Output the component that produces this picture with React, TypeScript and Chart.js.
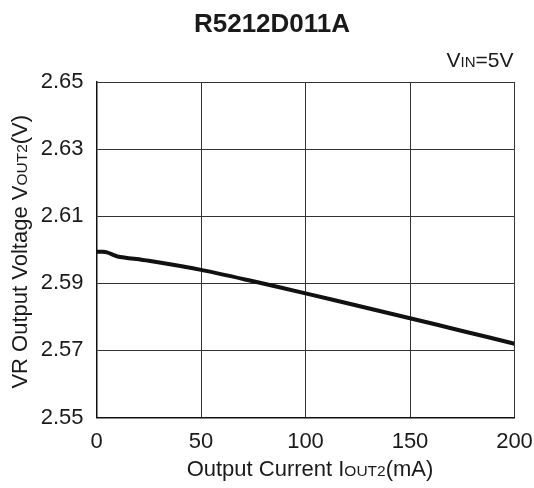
import React, { useEffect, useRef } from "react";
import { Chart, registerables } from "chart.js";

Chart.register(...registerables);

const currents = [0, 3, 5, 8, 10, 25, 50, 75, 100, 125, 150, 175, 200];
const voltages = [2.5994, 2.5994, 2.5992, 2.5985, 2.598, 2.5967, 2.594, 2.5906, 2.587, 2.5833, 2.5796, 2.5758, 2.572];
const xTicks = [0, 50, 100, 150, 200];
const yTicks = [2.55, 2.57, 2.59, 2.61, 2.63, 2.65];
const titleText = "R5212D011A";

const FONT = "'Liberation Sans', Arial, sans-serif";

function drawMixed(ctx: CanvasRenderingContext2D, parts: { t: string; s: number }[], x: number, y: number, align: "center" | "right") {
  let total = 0;
  for (const p of parts) {
    ctx.font = `${p.s}px ${FONT}`;
    total += ctx.measureText(p.t).width;
  }
  let cx = align === "center" ? x - total / 2 : x - total;
  ctx.textAlign = "left";
  ctx.textBaseline = "alphabetic";
  for (const p of parts) {
    ctx.font = `${p.s}px ${FONT}`;
    ctx.fillText(p.t, cx, y);
    cx += ctx.measureText(p.t).width;
  }
}

const textPlugin = {
  id: "customText",
  afterDraw(chart: any) {
    const ctx: CanvasRenderingContext2D = chart.ctx;
    const area = chart.chartArea;
    ctx.save();
    ctx.fillStyle = "#1a1a1a";
    ctx.font = `bold 26px ${FONT}`;
    ctx.textAlign = "center";
    ctx.textBaseline = "alphabetic";
    ctx.fillText(titleText, 272, 32);
    drawMixed(ctx, [{ t: "V", s: 21 }, { t: "IN", s: 15 }, { t: "=5V", s: 21 }], area.right - 1, 67, "right");
    drawMixed(ctx, [{ t: "Output Current I", s: 22 }, { t: "OUT2", s: 15.5 }, { t: "(mA)", s: 22 }], 310, 476, "center");
    ctx.translate(27, (area.top + area.bottom) / 2 + 2);
    ctx.rotate(-Math.PI / 2);
    drawMixed(ctx, [{ t: "VR Output Voltage V", s: 22 }, { t: "OUT2", s: 15.5 }, { t: "(V)", s: 22 }], 0, 0, "center");
    ctx.restore();
  },
};

export default function App() {
  const ref = useRef<HTMLCanvasElement>(null);
  useEffect(() => {
    const chart = new Chart(ref.current!, {
      type: "line",
      data: {
        datasets: [
          {
            data: currents.map((c, i) => ({ x: c, y: voltages[i] })),
            borderColor: "#111",
            borderWidth: 4,
            pointRadius: 0,
            tension: 0.3,
            fill: false,
          },
        ],
      },
      options: {
        animation: false,
        responsive: false,
        layout: { padding: { top: 82, right: 19.5, left: 0, bottom: 0 } },
        plugins: { legend: { display: false }, tooltip: { enabled: false }, title: { display: false } },
        scales: {
          x: {
            type: "linear",
            min: 0,
            max: 200,
            afterBuildTicks: (s: any) => {
              s.ticks = xTicks.map((v) => ({ value: v }));
            },
            afterFit: (s: any) => {
              s.height = 70.5;
              s.paddingLeft = 0;
              s.paddingRight = 0;
            },
            ticks: { color: "#1a1a1a", font: { family: FONT, size: 22 }, padding: 11, maxRotation: 0, autoSkip: false },
            grid: { color: "#333", lineWidth: 1, drawTicks: false },
            border: { color: "#111", width: 1.5 },
          },
          y: {
            type: "linear",
            min: 2.55,
            max: 2.65,
            afterBuildTicks: (s: any) => {
              s.ticks = yTicks.map((v) => ({ value: v }));
            },
            afterFit: (s: any) => {
              s.width = 96.5;
              s.paddingTop = 0;
              s.paddingBottom = 0;
            },
            ticks: {
              color: "#1a1a1a",
              font: { family: FONT, size: 22 },
              padding: 13,
              autoSkip: false,
              callback: (v: any) => Number(v).toFixed(2),
            },
            grid: { color: "#333", lineWidth: 1, drawTicks: false },
            border: { color: "#111", width: 1.5 },
          },
        },
      },
      plugins: [textPlugin],
    });
    return () => chart.destroy();
  }, []);
  return (
    <div style={{ position: "fixed", left: 0, top: 0, width: 534, height: 488, background: "#fff" }}>
      <canvas ref={ref} width={534} height={488} />
    </div>
  );
}
